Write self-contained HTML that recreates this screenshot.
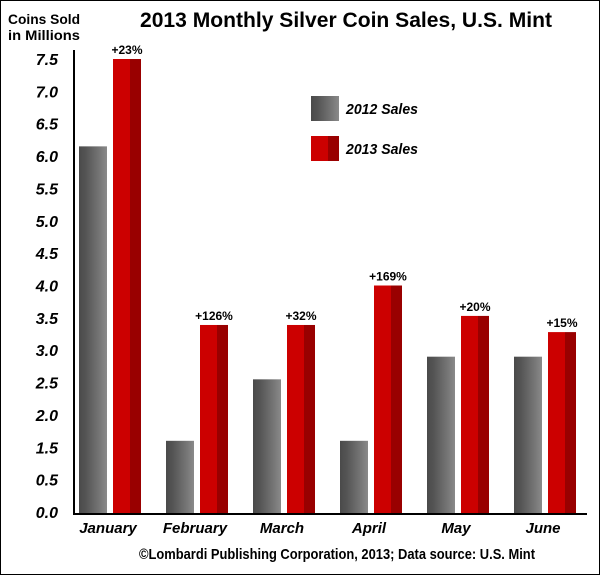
<!DOCTYPE html>
<html><head><meta charset="utf-8"><style>
body{margin:0;background:#fff}
#c{position:relative;width:600px;height:575px;overflow:hidden}
svg text{font-family:"Liberation Sans",sans-serif}
</style></head><body>
<div id="c">
<svg id="s" width="600" height="575" xmlns="http://www.w3.org/2000/svg">
<defs>
<linearGradient id="g" x1="0" x2="1"><stop offset="0" stop-color="#4a4a4a"/><stop offset="0.25" stop-color="#555"/><stop offset="0.5" stop-color="#666"/><stop offset="0.75" stop-color="#777"/><stop offset="1" stop-color="#8a8a8a"/></linearGradient>
<linearGradient id="r" x1="0" x2="1"><stop offset="0" stop-color="#cc0000"/><stop offset="0.6" stop-color="#cc0000"/><stop offset="0.6" stop-color="#990000"/><stop offset="1" stop-color="#990000"/></linearGradient>
</defs>
<rect x="0.5" y="0.5" width="599" height="574" fill="#fff" stroke="#000"/>
<text x="346" y="27" font-size="21" font-weight="bold" text-anchor="middle" textLength="412" lengthAdjust="spacingAndGlyphs">2013 Monthly Silver Coin Sales, U.S. Mint</text>
<text x="44" y="24" font-size="14" font-weight="bold" text-anchor="middle" textLength="72" lengthAdjust="spacingAndGlyphs">Coins Sold</text>
<text x="44" y="40" font-size="14" font-weight="bold" text-anchor="middle" textLength="72" lengthAdjust="spacingAndGlyphs">in Millions</text>
<g id="bars"></g>
<line x1="74" y1="50" x2="74" y2="515" stroke="#000" stroke-width="2"/>
<line x1="73" y1="514" x2="587" y2="514" stroke="#000" stroke-width="2"/>
<rect x="311" y="96" width="28" height="25" fill="url(#g)"/>
<text x="346" y="114" font-size="15" font-weight="bold" font-style="italic" textLength="72" lengthAdjust="spacingAndGlyphs">2012 Sales</text>
<rect x="311" y="136" width="28" height="25" fill="url(#r)"/>
<text x="346" y="154" font-size="15" font-weight="bold" font-style="italic" textLength="72" lengthAdjust="spacingAndGlyphs">2013 Sales</text>
<text x="337" y="559" font-size="15" font-weight="bold" text-anchor="middle" textLength="396" lengthAdjust="spacingAndGlyphs">©Lombardi Publishing Corporation, 2013; Data source: U.S. Mint</text>
</svg></div>
<script>
const months=["January","February","March","April","May","June"];
const sales2012=[6.15,1.6,2.55,1.6,2.9,2.9];
const sales2013=[7.5,3.39,3.39,4.0,3.53,3.28];
const pctLabels=["+23%","+126%","+32%","+169%","+20%","+15%"];
const tickLabels=["0.0","0.5","1.5","2.0","2.5","3.0","3.5","4.0","4.5","5.0","5.5","6.0","6.5","7.0","7.5"];
const tickValues=tickLabels.map(Number);
const NS="http://www.w3.org/2000/svg";
const svg=document.getElementById('s'),g=document.getElementById('bars');
const y0=512,y1=59;
function yIdx(i){return y0-(y0-y1)*i/(tickValues.length-1);}
function y(v){
  for(let i=0;i<tickValues.length-1;i++){
    if(v<=tickValues[i+1]){const t=(v-tickValues[i])/(tickValues[i+1]-tickValues[i]);return yIdx(i)+t*(yIdx(i+1)-yIdx(i));}
  }
  return yIdx(tickValues.length-1);
}
function x(i){return 79+87*i;}
function mk(tag,a){const e=document.createElementNS(NS,tag);for(const k in a)e.setAttribute(k,a[k]);return e;}
tickLabels.forEach((l,i)=>{
  const t=mk('text',{x:58,y:yIdx(i)+6,'font-size':16,'font-weight':'bold','font-style':'italic','text-anchor':'end'});
  
  
  t.textContent=l;svg.appendChild(t);
});
months.forEach((m,i)=>{
  const a=mk('rect',{x:x(i),y:y(sales2012[i]),width:28,height:514-y(sales2012[i]),fill:'url(#g)'});
  
  
  g.appendChild(a);
  const b=mk('rect',{x:x(i)+34,y:y(sales2013[i]),width:28,height:514-y(sales2013[i]),fill:'url(#r)'});
  
  
  g.appendChild(b);
  const p=mk('text',{x:x(i)+48,y:y(sales2013[i])-5,'font-size':12,'font-weight':'bold','text-anchor':'middle'});
  
  
  p.textContent=pctLabels[i];g.appendChild(p);
  const t=mk('text',{x:x(i)+29,y:533,'font-size':15,'font-weight':'bold','font-style':'italic','text-anchor':'middle'});
  
  
  t.textContent=m;svg.appendChild(t);
});
</script>
</body></html>
